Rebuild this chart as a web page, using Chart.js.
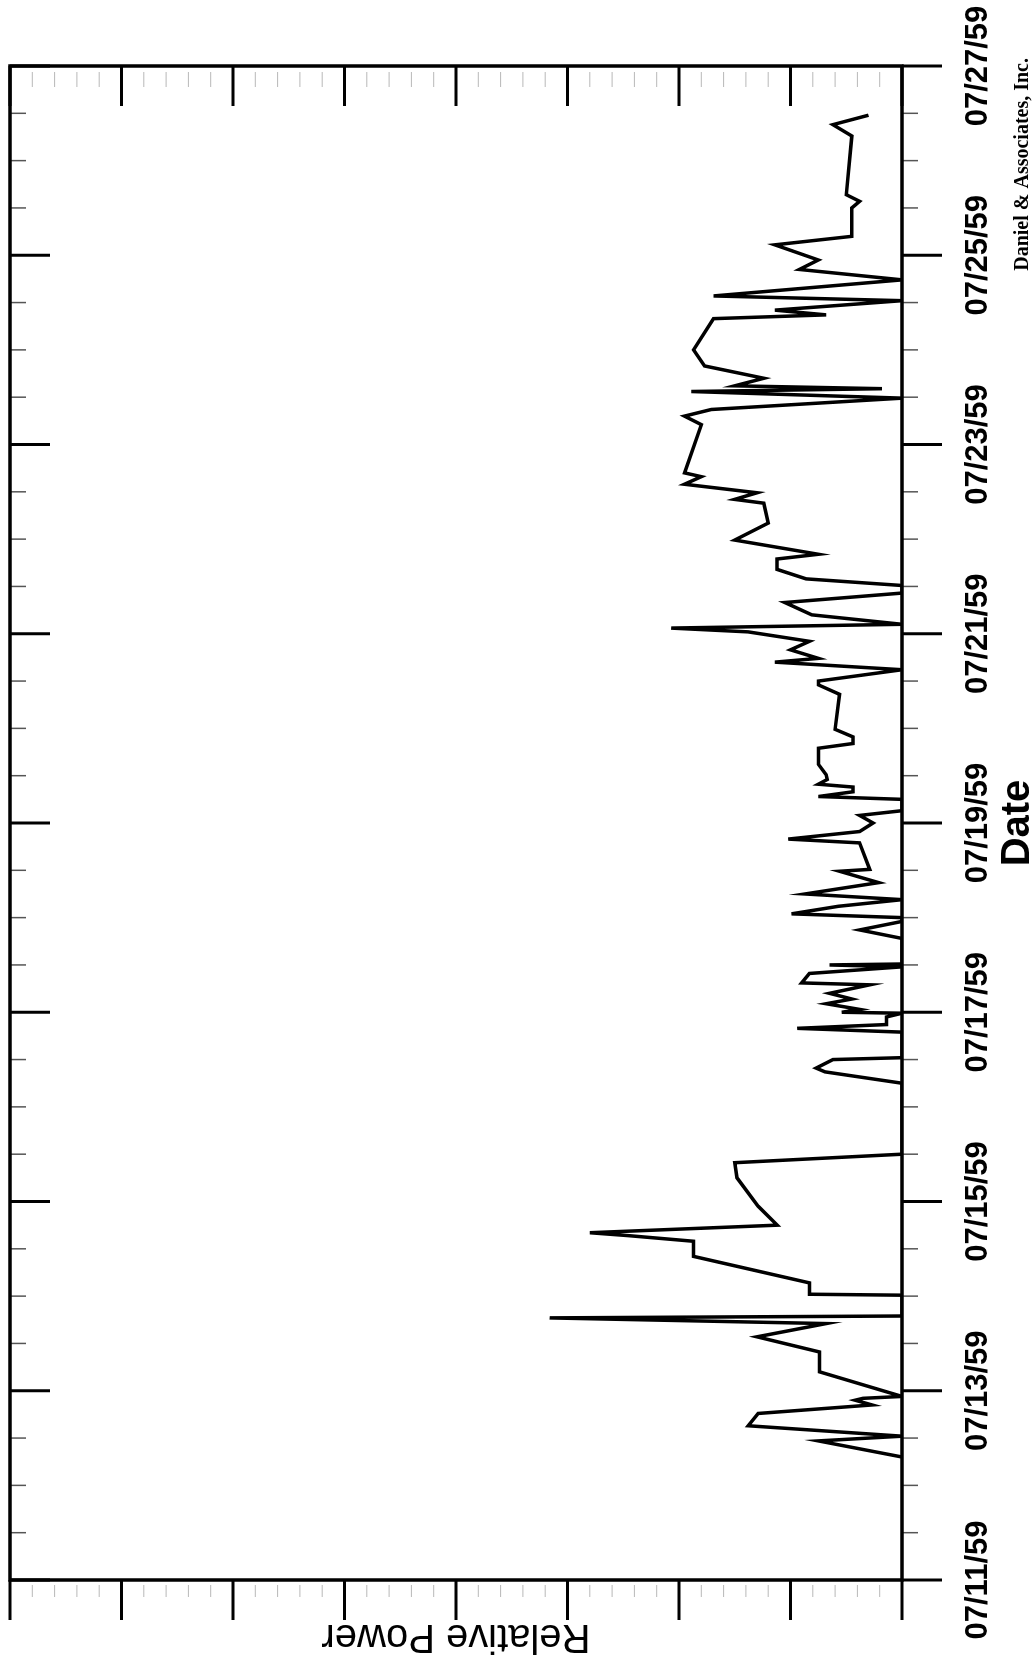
<!DOCTYPE html>
<html>
<head>
<meta charset="utf-8">
<script src="https://cdn.jsdelivr.net/npm/chart.js@4.4.1/dist/chart.umd.min.js"></script>
<style>
    html, body { margin: 0; padding: 0; background: #fff; }
    body { width: 1036px; height: 1661px; overflow: hidden; position: relative; }
    /* the chart is printed sideways: draw it landscape, then turn it a quarter left */
    #wrap {
        position: absolute; left: 0; top: 0;
        width: 1661px; height: 1036px;
        transform-origin: 0 0;
        transform: translate(0, 1661px) rotate(-90deg);
    }
</style>
</head>
<body>
<div id="wrap"><canvas id="power-chart" width="1661" height="1036"></canvas></div>
<script>
// Days after 07/11/59 00:00 for each reading
const dayOffsets = [
    1.30, 1.47, 1.52, 1.63, 1.76, 1.85, 1.90, 1.92, 1.94, 2.20,
    2.41, 2.57, 2.71, 2.77, 2.79, 3.01, 3.02, 3.14, 3.42, 3.58,
    3.64, 3.67, 3.75, 3.95, 4.25, 4.41, 4.50, 5.25, 5.37, 5.41,
    5.50, 5.52, 5.79, 5.83, 5.87, 5.95, 5.99, 6.00, 6.03, 6.09,
    6.14, 6.20, 6.29, 6.31, 6.41, 6.48, 6.50, 6.51, 6.78, 6.87,
    6.96, 7.00, 7.04, 7.12, 7.19, 7.25, 7.37, 7.49, 7.51, 7.79,
    7.83, 7.91, 8.00, 8.08, 8.13, 8.25, 8.28, 8.33, 8.38, 8.41,
    8.46, 8.51, 8.62, 8.79, 8.84, 8.91, 8.99, 9.36, 9.46, 9.50,
    9.62, 9.70, 9.74, 9.83, 9.92, 10.02, 10.06, 10.10, 10.20, 10.33,
    10.43, 10.51, 10.58, 10.68, 10.79, 10.84, 10.99, 11.17, 11.38, 11.42,
    11.49, 11.58, 11.66, 11.70, 12.21, 12.30, 12.37, 12.49, 12.56, 12.59,
    12.62, 12.70, 12.83, 13.00, 13.33, 13.37, 13.42, 13.52, 13.57, 13.74,
    13.85, 13.95, 14.11, 14.20, 14.50, 14.57, 14.64, 15.26, 15.38, 15.48
];

// Relative power (no units printed on the original, 0..8 grid divisions)
const relPower = [
    0, 0.75, 0, 1.38, 1.29, 0.27, 0.42, 0.35, 0, 0.74,
    0.74, 1.30, 0.68, 3.16, 0, 0, 0.83, 0.83, 1.87, 1.87,
    2.46, 2.80, 1.12, 1.29, 1.48, 1.50, 0, 0, 0.69, 0.77,
    0.62, 0, 0, 0.94, 0.14, 0.14, 0, 0.54, 0.38, 0.68,
    0.45, 0.65, 0.29, 0.90, 0.83, 0, 0.65, 0, 0, 0.38,
    0, 0, 0.99, 0.57, 0, 0.87, 0.21, 0.56, 0.29, 0.38,
    1.02, 0.38, 0.26, 0.38, 0, 0, 0.75, 0.44, 0.44, 0.75,
    0.67, 0.68, 0.75, 0.75, 0.44, 0.44, 0.60, 0.56, 0.75, 0.75,
    0, 1.14, 0.75, 1.00, 0.83, 1.38, 2.07, 0, 0.81, 1.05,
    0, 0, 0.86, 1.12, 1.12, 0.75, 1.50, 1.20, 1.24, 1.50,
    1.30, 1.95, 1.80, 1.95, 1.80, 1.95, 1.71, 0, 1.89, 0.18,
    1.50, 1.24, 1.77, 1.87, 1.69, 0.68, 1.14, 0, 1.69, 0,
    0.92, 0.75, 1.14, 0.45, 0.45, 0.38, 0.50, 0.45, 0.62, 0.30
];

// Tick labels, one every two days
const dateLabels = ['07/11/59', '07/13/59', '07/15/59', '07/17/59', '07/19/59',
                    '07/21/59', '07/23/59', '07/25/59', '07/27/59'];

const creditText = 'Daniel & Associates, Inc.';

/**
 * Frame, inner/outer tick marks and the credit line
 */
const axisChrome = {
    id: 'axisChrome',
    afterDraw(chart) {
        const { ctx, chartArea: a, scales: { x, y } } = chart;
        const seg = (x1, y1, x2, y2) => {
            ctx.beginPath();
            ctx.moveTo(x1, y1);
            ctx.lineTo(x2, y2);
            ctx.stroke();
        };
        ctx.save();
        ctx.lineCap = 'butt';

        // faint minor ticks on the power axis
        ctx.strokeStyle = '#b8b8b8';
        ctx.lineWidth = 1;
        for (let i = 1; i < 40; i++) {
            if (i % 5 === 0) continue;
            const py = y.getPixelForValue(i / 5);
            seg(a.left - 17, py, a.left - 5, py);
            seg(a.right - 21, py, a.right - 6, py);
        }

        // minor ticks every 12 hours
        ctx.strokeStyle = '#555';
        ctx.lineWidth = 1.5;
        for (let i = 1; i < 32; i++) {
            if (i % 4 === 0) continue;
            const px = x.getPixelForValue(i / 2);
            seg(px, a.bottom, px, a.bottom + 16);
            seg(px, a.top, px, a.top + 16);
        }

        // major ticks
        ctx.strokeStyle = '#000';
        ctx.lineWidth = 3;
        for (let i = 0; i <= 16; i += 2) {
            const px = x.getPixelForValue(i);
            seg(px, a.bottom, px, a.bottom + 40);
            seg(px, a.top, px, a.top + 40);
        }
        for (let i = 0; i <= 8; i++) {
            const py = y.getPixelForValue(i);
            seg(a.left, py, a.left - 40, py);
            seg(a.right, py, a.right - 40, py);
        }

        ctx.lineWidth = 3.5;
        ctx.strokeRect(a.left, a.top, a.right - a.left, a.bottom - a.top);

        ctx.fillStyle = '#000';
        ctx.font = 'bold 20px "Liberation Serif", "Times New Roman", serif';
        ctx.textAlign = 'right';
        ctx.textBaseline = 'middle';
        ctx.fillText(creditText, chart.width - 58, 1023);
        ctx.restore();
    }
};

const points = dayOffsets.map((d, i) => ({ x: d, y: relPower[i] }));

new Chart(document.getElementById('power-chart'), {
    type: 'line',
    data: {
        datasets: [{
            label: 'Relative Power',
            data: points,
            borderColor: '#000',
            borderWidth: 3.5,
            pointRadius: 0,
            tension: 0,
            fill: false
        }]
    },
    options: {
        responsive: false,
        animation: false,
        devicePixelRatio: 1,
        layout: {
            padding: { left: 0, right: 66, top: 10, bottom: 0 }
        },
        scales: {
            x: {
                type: 'linear',
                position: 'bottom',
                min: 0,
                max: 16,
                grid: { display: false, drawTicks: false },
                border: { display: false },
                ticks: {
                    stepSize: 2,
                    autoSkip: false,
                    maxRotation: 0,
                    minRotation: 0,
                    padding: 58,
                    color: '#000',
                    font: { family: '"Liberation Sans", Arial, sans-serif', size: 31, weight: 'bold' },
                    callback: (v) => (v % 2 === 0 ? dateLabels[v / 2] : '')
                },
                title: {
                    display: true,
                    text: 'Date',
                    color: '#000',
                    padding: { top: 0, bottom: -2 },
                    font: { family: '"Liberation Sans", Arial, sans-serif', size: 40, weight: 'bold', lineHeight: 1 }
                },
                afterFit: (scale) => {
                    scale.height = 134;
                    // edge labels may hang past the frame; keep the plot full width
                    scale.paddingLeft = 0;
                    scale.paddingRight = 0;
                }
            },
            y: {
                type: 'linear',
                min: 0,
                max: 8,
                grid: { display: false, drawTicks: false },
                border: { display: false },
                ticks: { display: false },
                title: {
                    display: true,
                    text: 'Relative Power',
                    color: '#000',
                    padding: { top: 1, bottom: 0 },
                    font: { family: '"Liberation Sans", Arial, sans-serif', size: 40, weight: 'normal' }
                },
                afterFit: (scale) => {
                    scale.width = 81;
                    scale.paddingTop = 0;
                    scale.paddingBottom = 0;
                }
            }
        },
        plugins: {
            legend: { display: false },
            tooltip: { enabled: false }
        }
    },
    plugins: [axisChrome]
});
</script>
</body>
</html>
